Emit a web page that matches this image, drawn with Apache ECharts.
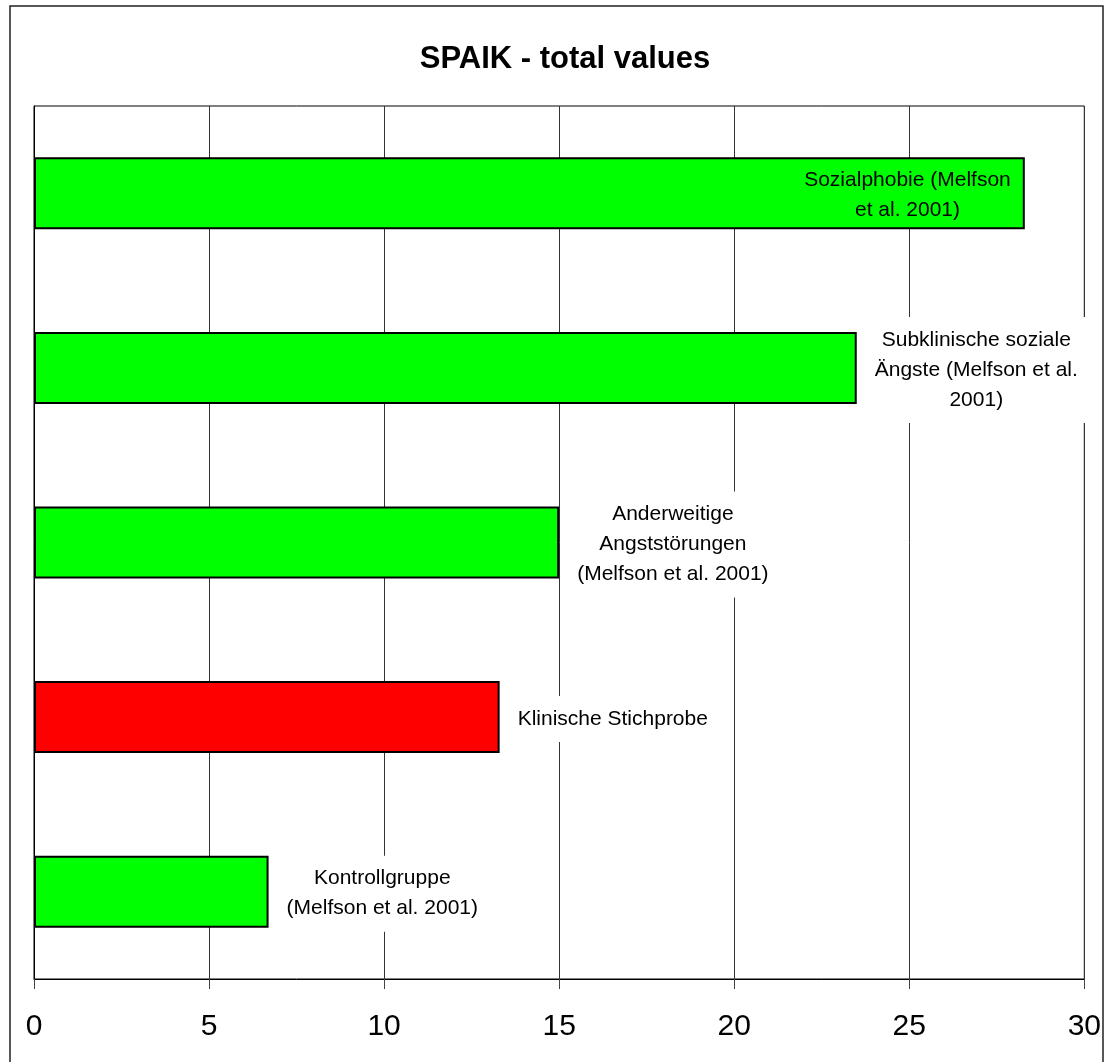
<!DOCTYPE html>
<html>
<head>
<meta charset="utf-8">
<title>SPAIK - total values</title>
<script src="https://cdn.jsdelivr.net/npm/echarts@6/dist/echarts.min.js"></script>
<style>
  html, body { margin: 0; padding: 0; background: #fff; }
  #chart { width: 1104px; height: 1062px; }
</style>
</head>
<body>
<div id="chart"></div>
<script>
// Group labels (line breaks as they appear in the bar labels)
const categories = [
  'Sozialphobie (Melfson\net al. 2001)',
  'Subklinische soziale\nÄngste (Melfson et al.\n2001)',
  'Anderweitige\nAngststörungen\n(Melfson et al. 2001)',
  'Klinische Stichprobe',
  'Kontrollgruppe\n(Melfson et al. 2001)'
];
// SPAIK total scores per group
const totals = [28.3, 23.5, 15.0, 13.3, 6.7];
// Which group is our own clinical sample (drawn in red)
const ownSample = [false, false, false, true, false];
// Value axis
const axisMin = 0;
const axisMax = 30;
const axisStep = 5;

const FONT = '"Liberation Sans", Arial, Helvetica, sans-serif';
const LABEL_SIZE = 21;
const GREEN = '#00ff00';
const RED = '#ff0000';

const chart = echarts.init(document.getElementById('chart'), null, { renderer: 'canvas' });

// Width of the widest line of a label, for centring the text block next to a bar
const measureCtx = document.createElement('canvas').getContext('2d');
measureCtx.font = LABEL_SIZE + 'px ' + FONT;
function blockWidth(text) {
  return Math.max.apply(null, text.split('\n').map(s => measureCtx.measureText(s).width));
}

const grid = { left: 34, right: 18, top: 106, bottom: 83 };

function buildOption(labelFor) {
  return {
    animation: false,
    backgroundColor: '#ffffff',
    title: {
      text: 'SPAIK - total values',
      left: 560,
      top: 39,
      textAlign: 'center',
      textStyle: { fontFamily: FONT, fontSize: 31, fontWeight: 'bold', color: '#000' }
    },
    graphic: [{
      type: 'rect',
      shape: { x: 10, y: 6, width: 1093, height: 1070 },
      style: { fill: 'none', stroke: '#222', lineWidth: 1.5 },
      silent: true
    }],
    grid: Object.assign({ show: true, borderColor: '#000', borderWidth: 1, backgroundColor: 'transparent' }, grid),
    xAxis: {
      type: 'value',
      min: axisMin,
      max: axisMax,
      interval: axisStep,
      axisLine: { show: true, lineStyle: { color: '#000', width: 1 } },
      axisTick: { show: true, length: 10, lineStyle: { color: '#444' } },
      axisLabel: { fontFamily: FONT, fontSize: 30, color: '#000', margin: 33 },
      splitLine: { show: true, lineStyle: { color: '#333', width: 1 } }
    },
    yAxis: {
      type: 'category',
      inverse: true,
      data: categories,
      axisLine: { show: true, lineStyle: { color: '#000', width: 1 } },
      axisTick: { show: false },
      axisLabel: { show: false },
      splitLine: { show: false }
    },
    series: [{
      type: 'bar',
      barWidth: 72,
      data: totals.map((v, i) => ({
        value: v,
        itemStyle: { color: ownSample[i] ? RED : GREEN, borderColor: '#000', borderWidth: 2 },
        label: labelFor(i)
      }))
    }]
  };
}

// First pass: plain bars, so bar ends can be located on the value axis
chart.setOption(buildOption(() => ({ show: false })));

const plotRight = chart.convertToPixel({ xAxisIndex: 0 }, axisMax);
const GAP = 18;

function labelFor(i) {
  const text = categories[i];
  const w = blockWidth(text);
  const end = chart.convertToPixel({ xAxisIndex: 0 }, totals[i]);
  const fitsOutside = end + GAP + w <= plotRight;
  return {
    show: true,
    formatter: () => text,
    position: ['100%', '50%'],
    offset: fitsOutside ? [GAP + w / 2, 2] : [-(14 + w / 2), 2],
    align: 'center',
    verticalAlign: 'middle',
    fontFamily: FONT,
    fontSize: LABEL_SIZE,
    lineHeight: 30,
    color: '#000',
    backgroundColor: fitsOutside ? '#ffffff' : 'transparent',
    padding: [8, 8]
  };
}

chart.setOption(buildOption(labelFor), true);
</script>
</body>
</html>
